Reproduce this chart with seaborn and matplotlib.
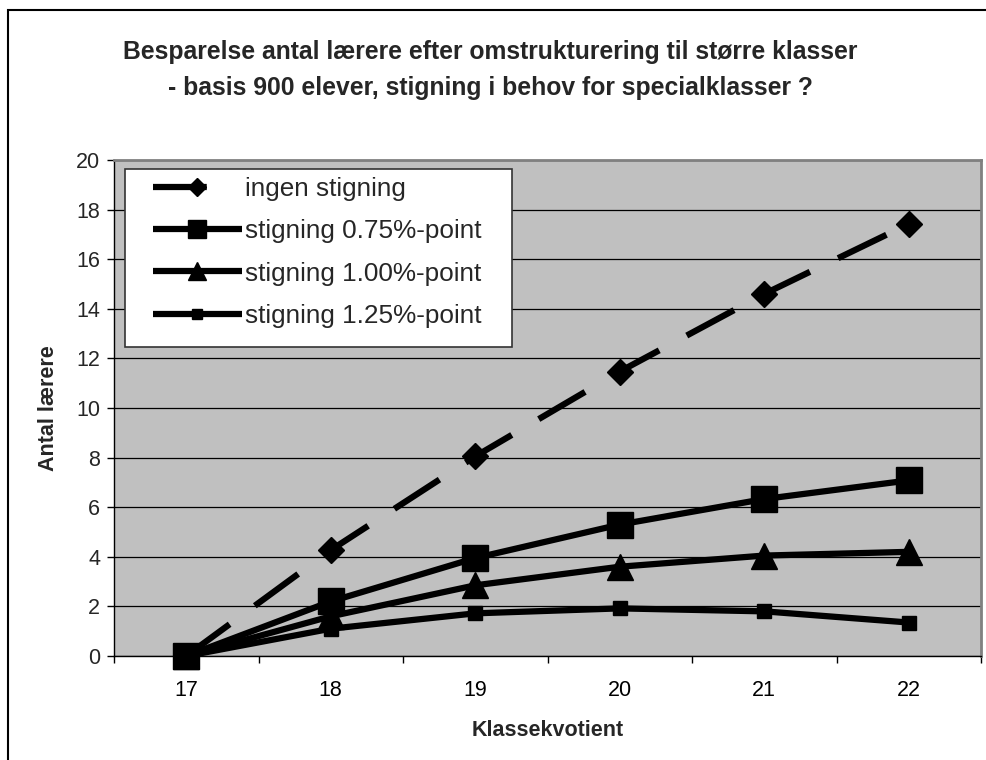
import numpy as np
import pandas as pd
import seaborn as sns
import matplotlib.pyplot as plt
from matplotlib.patches import Rectangle

# data
klasse = [17, 18, 19, 20, 21, 22]
ingen = [0, 4.27, 8.05, 11.47, 14.6, 17.42]
stig_075 = [0, 2.2, 3.95, 5.3, 6.33, 7.08]
stig_100 = [0, 1.6, 2.85, 3.6, 4.05, 4.2]
stig_125 = [0, 1.1, 1.72, 1.92, 1.8, 1.35]
labels = ["ingen stigning", "stigning 0.75%-point",
          "stigning 1.00%-point", "stigning 1.25%-point"]
yticks = list(range(0, 21, 2))

sns.set_theme(style="ticks")
plt.rcParams['font.family'] = ['Liberation Sans', 'DejaVu Sans']

W, H = 987, 760
fig = plt.figure(figsize=(W / 100, H / 100), dpi=100)
ax = fig.add_axes([114 / W, 1 - 656 / H, (981 - 114) / W, (656 - 160) / H])
ax.set_facecolor('#C0C0C0')

series = [ingen, stig_075, stig_100, stig_125]
styles = [
    dict(marker='D', markersize=13.2, linestyle=(0, (8.6, 5.0))),
    dict(marker='s', markersize=18.5, linestyle='-'),
    dict(marker='^', markersize=18.5, linestyle='-'),
    dict(marker='s', markersize=10.3, linestyle='-'),
]
for vals, lab, st in zip(series, labels, styles):
    df = pd.DataFrame({"Klassekvotient": klasse, "Antal": vals})
    sns.lineplot(data=df, x="Klassekvotient", y="Antal", ax=ax, color='black',
                 lw=4.5, label=lab, markeredgecolor='black', mew=1,
                 dash_capstyle='butt', solid_capstyle='butt', zorder=3,
                 clip_on=False, **st)

ax.set_xlim(klasse[0] - 0.5, klasse[-1] + 0.5)
ax.set_ylim(yticks[0], yticks[-1])
ax.set_xticks(klasse)
ax.set_xticks([k - 0.5 for k in klasse] + [klasse[-1] + 0.5], minor=True)
ax.set_yticks(yticks)
ax.tick_params(axis='x', which='major', length=0, labelsize=15.5, pad=17, colors='black')
ax.tick_params(axis='x', which='minor', length=5, width=1, color='black')
ax.tick_params(axis='y', length=5, width=1, labelsize=15.5, pad=5, color='black')
ax.yaxis.grid(True, color='black', lw=0.9)
ax.set_axisbelow(True)
for s in ['left', 'bottom']:
    ax.spines[s].set_color('black')
    ax.spines[s].set_linewidth(1)
for s in ['top', 'right']:
    ax.spines[s].set_color('#808080')
    ax.spines[s].set_linewidth(2)

ax.set_xlabel("Klassekvotient", fontsize=15.5, fontweight='bold', labelpad=14)
ax.set_ylabel("Antal lærere", fontsize=15.5, fontweight='bold', labelpad=12)

fig.text(490 / W, 1 - 70 / H,
         "Besparelse antal lærere efter omstrukturering til større klasser\n"
         "- basis 900 elever, stigning i behov for specialklasser ?",
         ha='center', va='center', fontsize=17.8, fontweight='bold', linespacing=1.6)

# legend box
ax.add_patch(Rectangle((125 / W, 1 - 347 / H), (512 - 125) / W, (347 - 169) / H,
                       transform=fig.transFigure, facecolor='white', edgecolor='#333333',
                       lw=1.2, zorder=4.9, clip_on=False))
handles, labs = ax.get_legend_handles_labels()
leg = ax.legend(handles, labs, loc='upper left', bbox_to_anchor=(153 / W, 1 - 177 / H),
                bbox_transform=fig.transFigure, frameon=False, fontsize=18.8,
                borderpad=0, borderaxespad=0, handlelength=3.4, handletextpad=0.12,
                labelspacing=0.7, markerscale=0.68)
leg.get_lines()[0].set_linestyle((0, (8.6, 12)))

# outer chart frame
fig.add_artist(Rectangle((8 / W, -0.1), 1.2, 1 - 10 / H + 0.1, transform=fig.transFigure,
                         fill=False, edgecolor='black', lw=1.5))

fig.savefig("out.png", dpi=100)
